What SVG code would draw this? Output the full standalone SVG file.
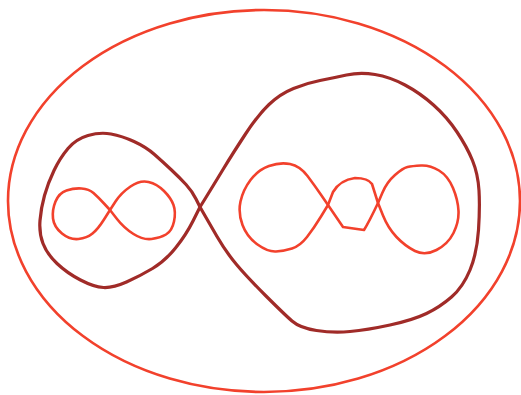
<svg xmlns="http://www.w3.org/2000/svg" width="521" height="395" viewBox="0 0 521 395">
<style>
.red{fill:none;stroke:#f2412c;stroke-width:2.6;stroke-linejoin:round;stroke-linecap:round}
.dark{fill:none;stroke:#a02b28;stroke-width:3.2;stroke-linejoin:round;stroke-linecap:round}
</style>
<rect width="521" height="395" fill="#ffffff"/>
<g id="outer"><ellipse class="red" cx="264" cy="201" rx="256" ry="191"/></g>
<g id="big-eight">
<path class="dark" d="M200,207 L196,199 Q192,191 186,184.5 Q180,178 171.5,170 Q163,162 154.5,154.5 Q146,147 134,141.5 Q122,136 111,134 Q100,132 88,135.5 Q76,139 68,148.5 Q60,158 54,170.5 Q48,183 44.5,195.5 Q41,208 40,220.5 Q39,233 43,243.5 Q47,254 57,263.5 Q67,273 80.5,280 Q94,287 103.5,287.5 Q113,288 126.5,282 Q140,276 152.5,268.5 Q165,261 175.5,248 Q186,235 193,221 L200,207"/>
<path class="dark" d="M200,207 L206.5,196.5 Q213,186 223,169.5 Q233,153 245.5,134 Q258,115 269,104.5 Q280,94 293.5,88.5 Q307,83 320,80.5 Q333,78 346.5,75 Q360,72 375,74.5 Q390,77 405,85 Q420,93 433.5,105 Q447,117 457,132 Q467,147 472.5,160.5 Q478,174 479,190.5 Q480,207 478.5,230 Q477,253 470,270 Q463,287 451.5,297 Q440,307 426.5,313.5 Q413,320 390,325 Q367,330 350,331.5 Q333,333 316.5,330.5 Q300,328 292,321 Q284,314 265.5,295.5 Q247,277 236.5,264.5 Q226,252 217,236.5 Q208,221 204,214 L200,207"/>
</g>
<g id="left-eight">
<path class="red" d="M110,210 L104,203.5 Q98,197 93.5,193 Q89,189 81.5,188.5 Q74,188 66.5,190.5 Q59,193 55.5,201.5 Q52,210 53,218.5 Q54,227 62,233.5 Q70,240 78.5,239 Q87,238 92.5,233.5 Q98,229 104,219.5 L110,210"/>
<path class="red" d="M110,210 L115.5,201.5 Q121,193 130.5,186.5 Q140,180 148.5,182 Q157,184 164,191 Q171,198 173.5,205 Q176,212 174,221.5 Q172,231 166,234.5 Q160,238 151.5,239 Q143,240 133.5,234 Q124,228 117,219 L110,210"/>
</g>
<g id="right-triple">
<path class="red" d="M328,205 L321.5,195.5 Q315,186 307.5,176 Q300,166 290,164 Q280,162 269,166 Q258,170 250.5,180 Q243,190 240.5,201.5 Q238,213 242.5,225 Q247,237 257.5,244.5 Q268,252 276,251.5 Q284,251 292,248.5 Q300,246 307,237 Q314,228 321,216.5 L328,205"/>
<path class="red" d="M328,205 L343,227 L364,230 Q369,222 378,203 L372,184 Q368,178 355,178 Q340,180 333,192 L328,205"/>
<path class="red" d="M378,203 L382.5,192.5 Q387,182 395,175 Q403,168 407.5,167 Q412,166 421,165.5 Q430,165 439,170.5 Q448,176 453,188 Q458,200 458.5,211 Q459,222 453.5,233 Q448,244 436.5,250 Q425,256 415,251 Q405,246 396.5,237 Q388,228 383,215.5 L378,203"/>
</g>
</svg>
